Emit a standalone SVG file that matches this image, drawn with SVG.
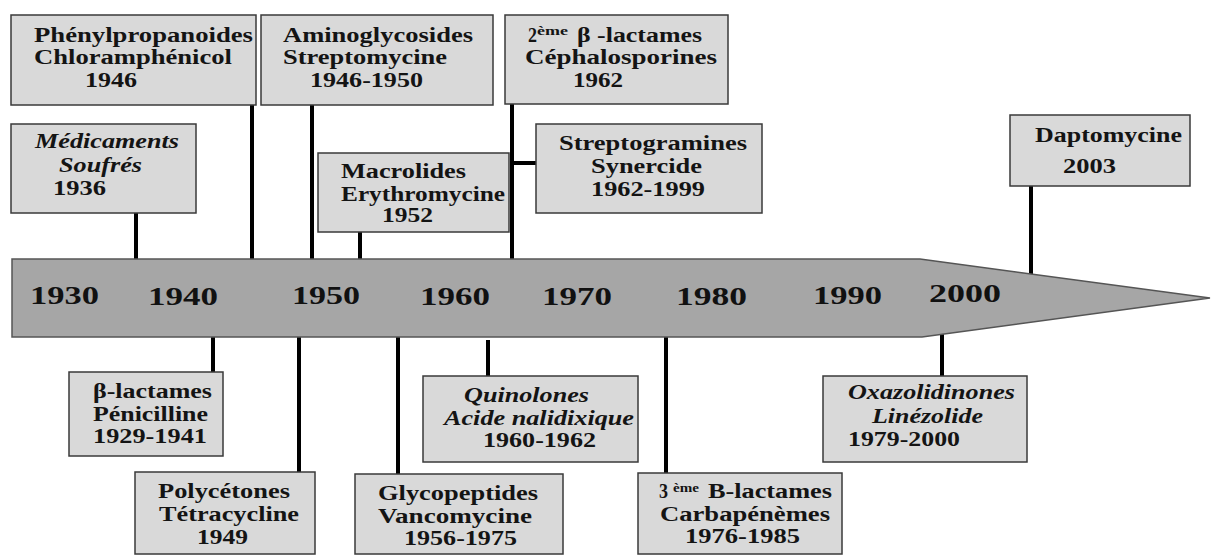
<svg xmlns="http://www.w3.org/2000/svg" width="1211" height="555" viewBox="0 0 1211 555">
<style>
.bg{fill:#fff}
.box{fill:#d9d9d9;stroke:#3a3a3a;stroke-width:1.5}
.conn line{stroke:#000;stroke-width:4}
text{font-family:'Liberation Serif','Times New Roman',serif;font-weight:bold;font-size:20px;fill:#141414}
.i{font-style:italic}
.yr{font-size:25px;fill:#111}
.sup{font-size:12px}
.arrow{fill:#a6a6a6;stroke:#555;stroke-width:1.5}
</style>
<rect class="bg" x="0" y="0" width="1211" height="555"/>
<g id="connectors" class="conn">
<line x1="136" y1="213" x2="136" y2="260"/>
<line x1="252" y1="105" x2="252" y2="260"/>
<line x1="312" y1="105" x2="312" y2="260"/>
<line x1="360" y1="232" x2="360" y2="260"/>
<line x1="512" y1="104" x2="512" y2="260"/>
<line x1="512" y1="163" x2="536" y2="163"/>
<line x1="1031" y1="186" x2="1031" y2="275"/>
<line x1="213" y1="336" x2="213" y2="372"/>
<line x1="299" y1="336" x2="299" y2="472"/>
<line x1="398" y1="336" x2="398" y2="474"/>
<line x1="488" y1="340" x2="488" y2="376"/>
<line x1="666" y1="336" x2="666" y2="473"/>
<line x1="942" y1="333" x2="942" y2="376"/>
</g>
<g id="timeline">
<polygon class="arrow" points="12,259 920,259 1210,298 922,337 12,337"/>
<text class="yr" x="30" y="304" textLength="69" lengthAdjust="spacingAndGlyphs">1930</text>
<text class="yr" x="148" y="305" textLength="70" lengthAdjust="spacingAndGlyphs">1940</text>
<text class="yr" x="292" y="304" textLength="68" lengthAdjust="spacingAndGlyphs">1950</text>
<text class="yr" x="420" y="305" textLength="70" lengthAdjust="spacingAndGlyphs">1960</text>
<text class="yr" x="542" y="305" textLength="70" lengthAdjust="spacingAndGlyphs">1970</text>
<text class="yr" x="676" y="305" textLength="71" lengthAdjust="spacingAndGlyphs">1980</text>
<text class="yr" x="813" y="304" textLength="69" lengthAdjust="spacingAndGlyphs">1990</text>
<text class="yr" x="929" y="302" textLength="72" lengthAdjust="spacingAndGlyphs">2000</text>
</g>
<g id="n-phenylpropanoides">
<rect class="box" x="11" y="15" width="245" height="90"/>
<text x="34" y="42" textLength="219" lengthAdjust="spacingAndGlyphs">Phénylpropanoides</text>
<text x="34" y="64" textLength="198" lengthAdjust="spacingAndGlyphs">Chloramphénicol</text>
<text x="85" y="87" textLength="52" lengthAdjust="spacingAndGlyphs">1946</text>
</g>
<g id="n-aminoglycosides">
<rect class="box" x="261" y="15" width="232" height="90"/>
<text x="283" y="42" textLength="190" lengthAdjust="spacingAndGlyphs">Aminoglycosides</text>
<text x="283" y="64" textLength="164" lengthAdjust="spacingAndGlyphs">Streptomycine</text>
<text x="310" y="87" textLength="113" lengthAdjust="spacingAndGlyphs">1946-1950</text>
</g>
<g id="n-cephalosporines">
<rect class="box" x="505" y="15" width="223" height="89"/>
<text x="528" y="42" textLength="9" lengthAdjust="spacingAndGlyphs">2</text>
<text class="sup" x="537" y="35" textLength="31" lengthAdjust="spacingAndGlyphs">ème</text>
<text x="577" y="42" textLength="125" lengthAdjust="spacingAndGlyphs">β -lactames</text>
<text x="525" y="64" textLength="192" lengthAdjust="spacingAndGlyphs">Céphalosporines</text>
<text x="573" y="87" textLength="50" lengthAdjust="spacingAndGlyphs">1962</text>
</g>
<g id="n-sulfamides">
<rect class="box" x="11" y="124" width="185" height="89"/>
<text class="i" x="35" y="148" textLength="144" lengthAdjust="spacingAndGlyphs">Médicaments</text>
<text class="i" x="59" y="172" textLength="83" lengthAdjust="spacingAndGlyphs">Soufrés</text>
<text x="53" y="195" textLength="53" lengthAdjust="spacingAndGlyphs">1936</text>
</g>
<g id="n-macrolides">
<rect class="box" x="318" y="153" width="191" height="79"/>
<text x="341" y="178" textLength="125" lengthAdjust="spacingAndGlyphs">Macrolides</text>
<text x="341" y="201" textLength="164" lengthAdjust="spacingAndGlyphs">Erythromycine</text>
<text x="382" y="222" textLength="51" lengthAdjust="spacingAndGlyphs">1952</text>
</g>
<g id="n-streptogramines">
<rect class="box" x="536" y="124" width="226" height="89"/>
<text x="559" y="150" textLength="188" lengthAdjust="spacingAndGlyphs">Streptogramines</text>
<text x="591" y="173" textLength="111" lengthAdjust="spacingAndGlyphs">Synercide</text>
<text x="591" y="196" textLength="114" lengthAdjust="spacingAndGlyphs">1962-1999</text>
</g>
<g id="n-daptomycine">
<rect class="box" x="1010" y="115" width="180" height="71"/>
<text x="1035" y="142" textLength="147" lengthAdjust="spacingAndGlyphs">Daptomycine</text>
<text x="1063" y="173" textLength="53" lengthAdjust="spacingAndGlyphs">2003</text>
</g>
<g id="n-penicilline">
<rect class="box" x="69" y="372" width="154" height="84"/>
<text x="93" y="398" textLength="119" lengthAdjust="spacingAndGlyphs">β-lactames</text>
<text x="93" y="421" textLength="115" lengthAdjust="spacingAndGlyphs">Pénicilline</text>
<text x="93" y="443" textLength="114" lengthAdjust="spacingAndGlyphs">1929-1941</text>
</g>
<g id="n-tetracycline">
<rect class="box" x="135" y="472" width="180" height="82"/>
<text x="158" y="498" textLength="132" lengthAdjust="spacingAndGlyphs">Polycétones</text>
<text x="159" y="521" textLength="140" lengthAdjust="spacingAndGlyphs">Tétracycline</text>
<text x="197" y="544" textLength="51" lengthAdjust="spacingAndGlyphs">1949</text>
</g>
<g id="n-vancomycine">
<rect class="box" x="355" y="474" width="208" height="80"/>
<text x="378" y="500" textLength="160" lengthAdjust="spacingAndGlyphs">Glycopeptides</text>
<text x="378" y="523" textLength="154" lengthAdjust="spacingAndGlyphs">Vancomycine</text>
<text x="404" y="545" textLength="113" lengthAdjust="spacingAndGlyphs">1956-1975</text>
</g>
<g id="n-quinolones">
<rect class="box" x="423" y="376" width="215" height="86"/>
<text class="i" x="464" y="402" textLength="125" lengthAdjust="spacingAndGlyphs">Quinolones</text>
<text class="i" x="444" y="425" textLength="190" lengthAdjust="spacingAndGlyphs">Acide nalidixique</text>
<text x="483" y="447" textLength="113" lengthAdjust="spacingAndGlyphs">1960-1962</text>
</g>
<g id="n-carbapenemes">
<rect class="box" x="638" y="473" width="204" height="81"/>
<text x="659" y="498" textLength="9" lengthAdjust="spacingAndGlyphs">3</text>
<text class="sup" x="673" y="492" textLength="26" lengthAdjust="spacingAndGlyphs">ème</text>
<text x="708" y="498" textLength="124" lengthAdjust="spacingAndGlyphs">B-lactames</text>
<text x="660" y="521" textLength="170" lengthAdjust="spacingAndGlyphs">Carbapénèmes</text>
<text x="685" y="543" textLength="115" lengthAdjust="spacingAndGlyphs">1976-1985</text>
</g>
<g id="n-oxazolidinones">
<rect class="box" x="823" y="376" width="204" height="86"/>
<text class="i" x="848" y="399" textLength="167" lengthAdjust="spacingAndGlyphs">Oxazolidinones</text>
<text class="i" x="872" y="423" textLength="111" lengthAdjust="spacingAndGlyphs">Linézolide</text>
<text x="848" y="446" textLength="112" lengthAdjust="spacingAndGlyphs">1979-2000</text>
</g>
</svg>
